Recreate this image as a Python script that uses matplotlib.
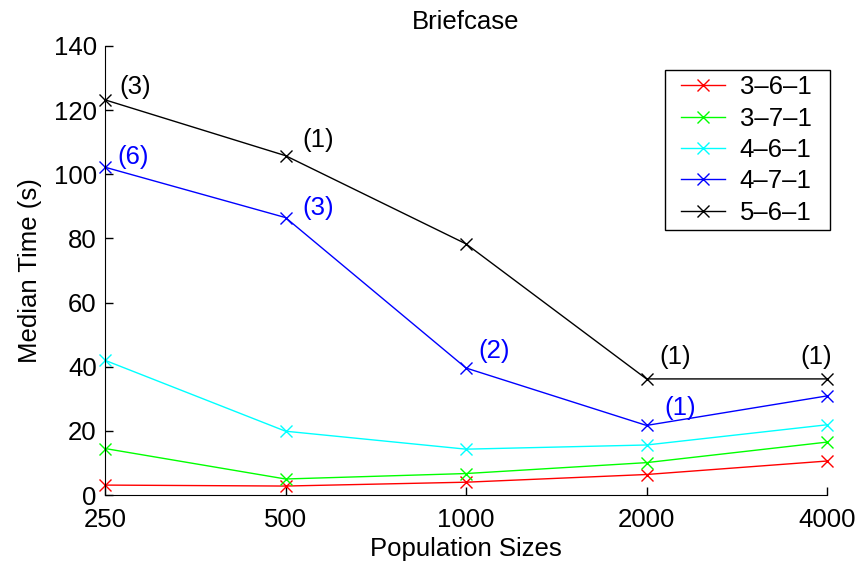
import numpy as np
import matplotlib
matplotlib.use('Agg')
import matplotlib.pyplot as plt
from matplotlib.patches import Rectangle
from matplotlib.transforms import IdentityTransform

plt.rcParams['font.family'] = ['Liberation Sans', 'DejaVu Sans']

# Data
pop_sizes = [250, 500, 1000, 2000, 4000]
labels = ['3\u20136\u20131', '3\u20137\u20131', '4\u20136\u20131', '4\u20137\u20131', '5\u20136\u20131']
t_361 = [3.1, 2.8, 4.0, 6.4, 10.6]
t_371 = [14.5, 5.0, 6.7, 10.1, 16.5]
t_461 = [42.0, 19.9, 14.3, 15.6, 21.9]
t_471 = [102.2, 86.5, 39.6, 21.7, 30.9]
t_561 = [123.2, 105.8, 78.3, 36.2, 36.2]

# counts shown next to points
notes_471 = ['(6)', '(3)', '(2)', '(1)', None]
notes_561 = ['(3)', '(1)', None, '(1)', '(1)']

colors = ['#ff0000', '#00ff00', '#00ffff', '#0000ff', '#000000']
series = [t_361, t_371, t_461, t_471, t_561]

fs = 18.5

fig = plt.figure(figsize=(8.61, 5.69), dpi=100)
ax = fig.add_axes([0.1220, 0.1300, 0.8385, 0.7892])

for y, c, lab in zip(series, colors, labels):
    ax.plot(pop_sizes, y, color=c, marker='x', markersize=9, linewidth=1,
            markeredgewidth=1, label=lab, clip_on=False)

# annotation offsets in pixels (dx, dy, ha)
offs_471 = [(12, 10, 'left'), (17, 10, 'left'), (12, 17, 'left'), (18, 17, 'left'), None]
offs_561 = [(14, 13, 'left'), (17, 16, 'left'), None, (13, 22, 'left'), (5, 22, 'right')]
for notes, offs, y, c in [(notes_471, offs_471, t_471, 'blue'),
                          (notes_561, offs_561, t_561, 'black')]:
    for xv, yv, n, o in zip(pop_sizes, y, notes, offs):
        if n is None:
            continue
        ax.annotate(n, (xv, yv), xytext=(o[0], o[1]), textcoords='offset pixels',
                    ha=o[2], va='center', color=c, fontsize=fs)

ax.set_xscale('log', base=2)
ax.set_xlim(250, 4000)
ax.set_ylim(0, 140)
ax.set_xticks(pop_sizes)
ax.set_xticklabels([str(p) for p in pop_sizes])
ax.minorticks_off()
ax.set_yticks(np.arange(0, 141, 20))

ax.spines['top'].set_visible(False)
ax.spines['right'].set_visible(False)
ax.tick_params(direction='in', length=6, labelsize=fs, width=1)
ax.tick_params(axis='x', pad=9)
ax.tick_params(axis='y', pad=6)

ax.set_xlabel('Population Sizes', fontsize=fs, labelpad=4)
ax.set_ylabel('Median Time (s)', fontsize=fs, labelpad=8)
ax.set_title('Briefcase', fontsize=fs, pad=12.5)

# legend without its own frame; a wider box is drawn behind it below
leg = ax.legend(loc='upper right', bbox_to_anchor=(0.986, 0.9467), fontsize=fs,
                frameon=False, borderaxespad=0,
                handlelength=1.71, handletextpad=0.58, borderpad=0.2,
                labelspacing=0.29)
leg.set_zorder(6)
fig.canvas.draw()
bb = leg.get_window_extent()
box = Rectangle((bb.x0 - 11, bb.y0), bb.width + 24, bb.height,
                transform=IdentityTransform(), facecolor='white',
                edgecolor='black', linewidth=1, zorder=5.5, clip_on=False)
ax.add_artist(box)

fig.savefig('out.png', dpi=100)
